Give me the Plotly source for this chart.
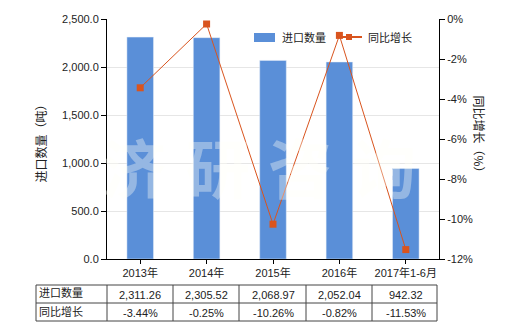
import plotly.graph_objects as go

categories = ["2013年", "2014年", "2015年", "2016年", "2017年1-6月"]
import_qty = [2311.26, 2305.52, 2068.97, 2052.04, 942.32]
yoy_growth = [-3.44, -0.25, -10.26, -0.82, -11.53]
left_ticks = [0, 500, 1000, 1500, 2000, 2500]
right_ticks = [0, -2, -4, -6, -8, -10, -12]
row_labels = ["进口数量", "同比增长"]
series_names = ["进口数量", "同比增长"]
watermark = ["济", "研", "咨", "询"]

FONT = "Liberation Sans, Noto Sans CJK SC, sans-serif"
CJK = "Noto Sans CJK SC, sans-serif"
BAR = "#5a8fd8"
LINE = "#d9541e"

# plot area in pixels
L, R, T, B = 107, 439, 19, 259
PW, PH = R - L, B - T


def px(x):
    return (x - L) / PW


def py(y):
    return (B - y) / PH


fig = go.Figure()
fig.add_trace(go.Bar(x=categories, y=import_qty, name=series_names[0],
                     marker_color=BAR, width=0.4, yaxis="y", showlegend=False))
fig.add_trace(go.Scatter(x=categories, y=yoy_growth, name=series_names[1], yaxis="y2",
                         mode="lines+markers", line=dict(color=LINE, width=1),
                         marker=dict(symbol="square", size=7, color=LINE), showlegend=False))

shapes = []
annotations = []

# custom legend
shapes.append(dict(type="rect", xref="paper", yref="paper", x0=px(254), x1=px(275),
                   y0=py(42), y1=py(33), fillcolor=BAR, line=dict(width=0)))
annotations.append(dict(xref="paper", yref="paper", x=px(280), y=py(37), text=series_names[0],
                        xanchor="left", yanchor="middle", showarrow=False,
                        font=dict(family=CJK, size=11, color="#222")))
shapes.append(dict(type="line", xref="paper", yref="paper", x0=px(337), x1=px(362),
                   y0=py(37), y1=py(37), line=dict(color=LINE, width=2)))
shapes.append(dict(type="rect", xref="paper", yref="paper", x0=px(346), x1=px(352),
                   y0=py(40), y1=py(34), fillcolor=LINE, line=dict(width=0)))
annotations.append(dict(xref="paper", yref="paper", x=px(366), y=py(37), text=series_names[1],
                        xanchor="left", yanchor="middle", showarrow=False,
                        font=dict(family=CJK, size=11, color="#222")))

# table grid
lc = dict(color="#444", width=1)
for yy in (285, 303, 321):
    shapes.append(dict(type="line", xref="paper", yref="paper",
                       x0=px(36), x1=px(437), y0=py(yy), y1=py(yy), line=lc))
for xx in [36, 107, 173, 239, 306, 372, 437]:
    shapes.append(dict(type="line", xref="paper", yref="paper",
                       x0=px(xx), x1=px(xx), y0=py(285), y1=py(321), line=lc))

tf = dict(family=FONT, size=11, color="#222")
for lab, yc in zip(row_labels, (294, 312)):
    annotations.append(dict(xref="paper", yref="paper", x=px(37), y=py(yc - 1),
                            text=lab, showarrow=False, xanchor="left", yanchor="middle", font=tf))
for c, v, g in zip(categories, import_qty, yoy_growth):
    annotations.append(dict(xref="x", yref="paper", x=c, y=py(295), yanchor="middle",
                            text=f"{v:,.2f}", showarrow=False, font=tf))
    annotations.append(dict(xref="x", yref="paper", x=c, y=py(313), yanchor="middle",
                            text=f"{g:.2f}%", showarrow=False, font=tf))

# axis titles
annotations.append(dict(xref="paper", yref="paper", x=px(29), y=py(141), text="进口数量（吨）",
                        textangle=-90, showarrow=False, font=dict(family=CJK, size=12, color="#222")))
annotations.append(dict(xref="paper", yref="paper", x=px(490), y=py(137), text="同比增长（%）",
                        textangle=90, showarrow=False, font=dict(family=CJK, size=12, color="#222")))

# watermark
for ch, xc in zip(watermark, (134, 218, 300, 384)):
    annotations.append(dict(xref="paper", yref="paper", x=px(xc), y=py(165), text=f"<b>{ch}</b>",
                            showarrow=False, xanchor="center", yanchor="middle",
                            font=dict(family=CJK, size=64, color="rgba(255,255,248,0.36)")))

fig.update_layout(
    width=520, height=330,
    margin=dict(l=L, r=520 - R, t=T, b=330 - B),
    paper_bgcolor="white", plot_bgcolor="white",
    font=dict(family=FONT, size=11, color="#222"),
    showlegend=False,
    xaxis=dict(showline=True, linecolor="black", ticks="outside", ticklen=4, tickcolor="black",
               tickfont=dict(size=11), showgrid=False),
    yaxis=dict(range=[0, 2500], tickvals=left_ticks, tickformat=",.1f",
               showline=True, linecolor="black", ticks="outside", ticklen=5, tickcolor="black",
               showgrid=True, gridcolor="#e6e6e6", zeroline=False),
    yaxis2=dict(range=[-12, 0], tickvals=right_ticks, ticktext=[f"{t}%" for t in right_ticks],
                overlaying="y", side="right",
                showline=True, linecolor="black", ticks="outside", ticklen=5, tickcolor="black",
                showgrid=False, zeroline=False),
    shapes=shapes, annotations=annotations,
)
fig.write_html("out.html")
